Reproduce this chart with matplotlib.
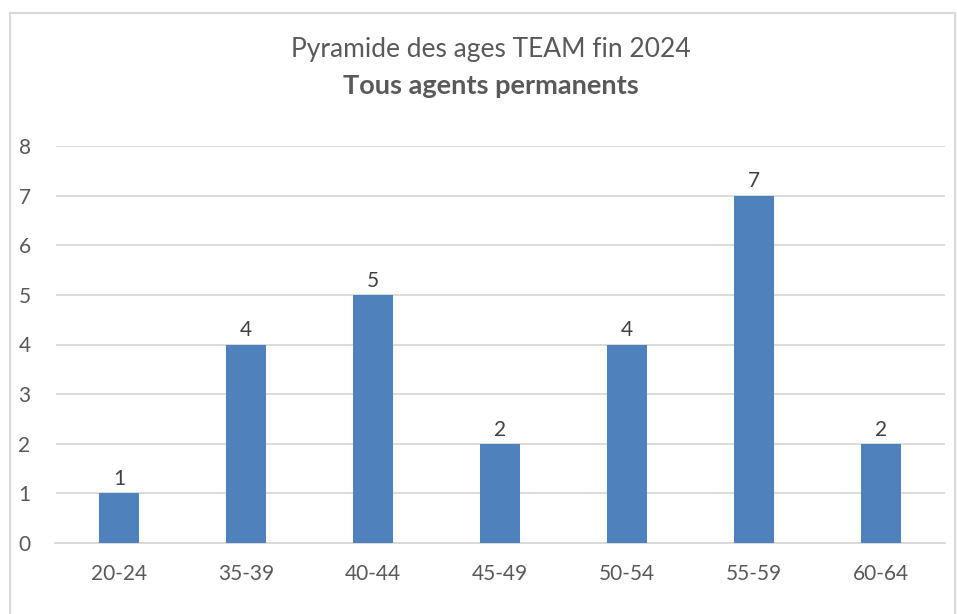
import matplotlib.pyplot as plt
from matplotlib.patches import Rectangle

CATEGORIES = ["20-24", "35-39", "40-44", "45-49", "50-54", "55-59", "60-64"]
COUNTS = [1, 4, 5, 2, 4, 7, 2]
TITLE = "Pyramide des ages TEAM fin 2024"
SUBTITLE = "Tous agents permanents"

BAR_COLOR = "#4f81bd"
TEXT_COLOR = "#595959"
GRID_COLOR = "#d9d9d9"

plt.rcParams["font.family"] = ["Lato", "DejaVu Sans"]

W, H = 957, 614
fig = plt.figure(figsize=(W / 100, H / 100), dpi=100)
ax = fig.add_axes([55.5 / W, 1 - 543 / H, 889 / W, 397 / H])

# outer chart frame
fig.patches.append(Rectangle((10 / W, -0.05), 945 / W, 1.05 - 13 / H,
                             transform=fig.transFigure, fill=False,
                             edgecolor=GRID_COLOR, linewidth=1.5))

x = range(len(CATEGORIES))
bars = ax.bar(x, COUNTS, width=0.315, color=BAR_COLOR, zorder=3)
for rect, v in zip(bars, COUNTS):
    ax.annotate(str(v), (rect.get_x() + rect.get_width() / 2, v),
                xytext=(0, 3), textcoords="offset points",
                ha="center", va="bottom", fontsize=15, color="#404040")

ax.set_xlim(-0.5, len(CATEGORIES) - 0.5)
ax.set_ylim(0, 8)
ax.set_yticks(range(0, 9))
ax.set_xticks(list(x))
ax.set_xticklabels(CATEGORIES)
ax.tick_params(axis="both", length=0, labelsize=15, labelcolor=TEXT_COLOR)
ax.tick_params(axis="y", pad=18)
ax.tick_params(axis="x", pad=15)
ax.grid(axis="y", color=GRID_COLOR, linewidth=1.3, zorder=0)
for side in ["top", "right", "left"]:
    ax.spines[side].set_visible(False)
ax.spines["bottom"].set_color(GRID_COLOR)
ax.spines["bottom"].set_linewidth(1.3)

fig.text(491 / W, 1 - 50 / H, TITLE, ha="center", va="center",
         fontsize=19, color=TEXT_COLOR)
fig.text(491 / W, 1 - 86 / H, SUBTITLE, ha="center", va="center",
         fontsize=19.5, fontweight="bold", color=TEXT_COLOR)

fig.savefig("out.png", dpi=100)
